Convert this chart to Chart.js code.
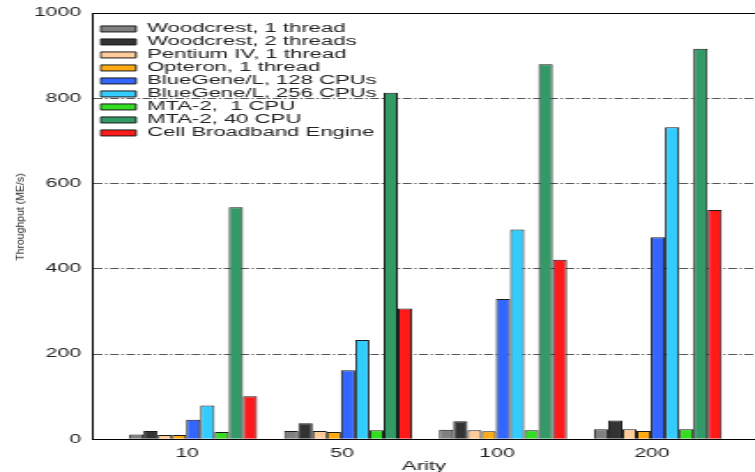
<!DOCTYPE html>
<html>
<head>
<meta charset="utf-8">
<script src="https://cdn.jsdelivr.net/npm/chart.js@4/dist/chart.umd.min.js"></script>
<style>
  html, body { margin: 0; padding: 0; background: #fff; overflow: hidden; }
  #box { position: relative; width: 755px; height: 472px; }
  /* the original figure is stretched sideways, so draw narrow and stretch */
  #chart { position: absolute; left: 0; top: 0; transform: scaleX(1.7681); transform-origin: 0 0; }
  #ytitle {
    position: absolute; left: 20px; top: 217px;
    transform: translate(-50%, -50%) rotate(-90deg);
    font-family: "Liberation Sans", Arial, sans-serif; font-size: 10.5px;
    line-height: 1; color: #222; white-space: nowrap;
  }
</style>
</head>
<body>
<div id="box">
  <canvas id="chart" width="427" height="472"></canvas>
  <div id="ytitle">Throughput (ME/s)</div>
</div>
<script>
'use strict';

const arities = ['10', '50', '100', '200'];
const yTicks = [0, 200, 400, 600, 800, 1000];

const woodcrest1 = [11, 19.5, 22, 23.5];
const woodcrest2 = [19.5, 37.5, 42, 44];
const pentium4 = [10, 19.5, 21, 23.5];
const opteron = [10, 17, 19, 19.5];
const bgl128 = [46, 162, 329, 474];
const bgl256 = [79, 233, 492, 732];
const mta1 = [17, 21, 21, 23.5];
const mta40 = [544, 813, 880, 916];
const cell = [101, 307, 421, 538];

const seriesNames = ['Woodcrest, 1 thread', 'Woodcrest, 2 threads', 'Pentium IV, 1 thread',
  'Opteron, 1 thread', 'BlueGene/L, 128 CPUs', 'BlueGene/L, 256 CPUs',
  'MTA-2,  1 CPU', 'MTA-2, 40 CPU', 'Cell Broadband Engine'];
const seriesValues = [woodcrest1, woodcrest2, pentium4, opteron, bgl128, bgl256, mta1, mta40, cell];
const seriesColors = ['#808080', '#333333', '#ffcc99', '#ffaa11', '#3366ff', '#33ccff',
  '#33dd22', '#339966', '#ff1a1a'];

Chart.defaults.font.family = '"Liberation Sans", Arial, sans-serif';
Chart.defaults.color = '#222';

// put the legend at the top left inside the plot
const legendSpot = {
  id: 'legendSpot',
  afterLayout(chart) {
    const lg = chart.legend;
    lg.left = 56.4;
    lg.right = lg.left + lg.width;
    lg.top = 22.2;
    lg.bottom = chart.chartArea.bottom;
  }
};

function renderChart() {
  const ctx = document.getElementById('chart');
  let datasets = [];
  for (let i = 0; i < seriesNames.length; i++) {
    datasets.push({
      label: seriesNames[i],
      data: seriesValues[i].map((v, j) => ({x: j, y: v})),
      backgroundColor: seriesColors[i],
      borderColor: '#1a1a1a',
      borderWidth: 1,
      categoryPercentage: 0.826,
      barPercentage: 1
    });
  }

  new Chart(ctx, {
    type: 'bar',
    data: { datasets: datasets },
    options: {
      responsive: false,
      animation: false,
      layout: { padding: { top: 13, left: 19.2, right: 0, bottom: -1 } },
      plugins: {
        tooltip: { enabled: false },
        legend: {
          position: 'chartArea',
          align: 'start',
          labels: {
            boxWidth: 20,
            boxHeight: 6,
            padding: 0.5,
            color: '#222',
            font: { size: 12.5 }
          }
        }
      },
      scales: {
        x: {
          type: 'linear',
          min: -0.647,
          max: 3.627,
          offset: false,
          afterBuildTicks: (axis) => {
            axis.ticks = arities.map((a, i) => ({ value: i - 0.039 }));
          },
          ticks: {
            callback: (value, index) => arities[index],
            font: { size: 12, lineHeight: 1 },
            padding: 0,
            maxRotation: 0,
            autoSkip: false
          },
          grid: { offset: false, drawOnChartArea: false, tickLength: 8, tickColor: 'rgba(0,0,0,0)' },
          border: { color: '#000', width: 1 },
          title: {
            display: true,
            text: 'Arity',
            font: { size: 12.5, lineHeight: 1.1 },
            padding: 0
          }
        },
        y: {
          min: 0,
          max: 1000,
          afterBuildTicks: (axis) => {
            axis.ticks = yTicks.map(v => ({ value: v }));
          },
          ticks: { font: { size: 12 }, padding: 0, callback: (v) => String(v) },
          grid: {
            color: (c) => {
              if (!c.tick || c.tick.value === 0) return 'rgba(0,0,0,0)';
              return c.tick.value === 1000 ? '#000' : '#555';
            },
            lineWidth: 1,
            tickLength: 6.7,
            tickColor: 'rgba(0,0,0,0)'
          },
          border: {
            color: '#000',
            width: 1,
            dash: (c) => (c.tick && c.tick.value !== 1000) ? [5, 1.5, 1.2, 1.5] : []
          }
        }
      }
    },
    plugins: [legendSpot]
  });
}
renderChart();
</script>
</body>
</html>
